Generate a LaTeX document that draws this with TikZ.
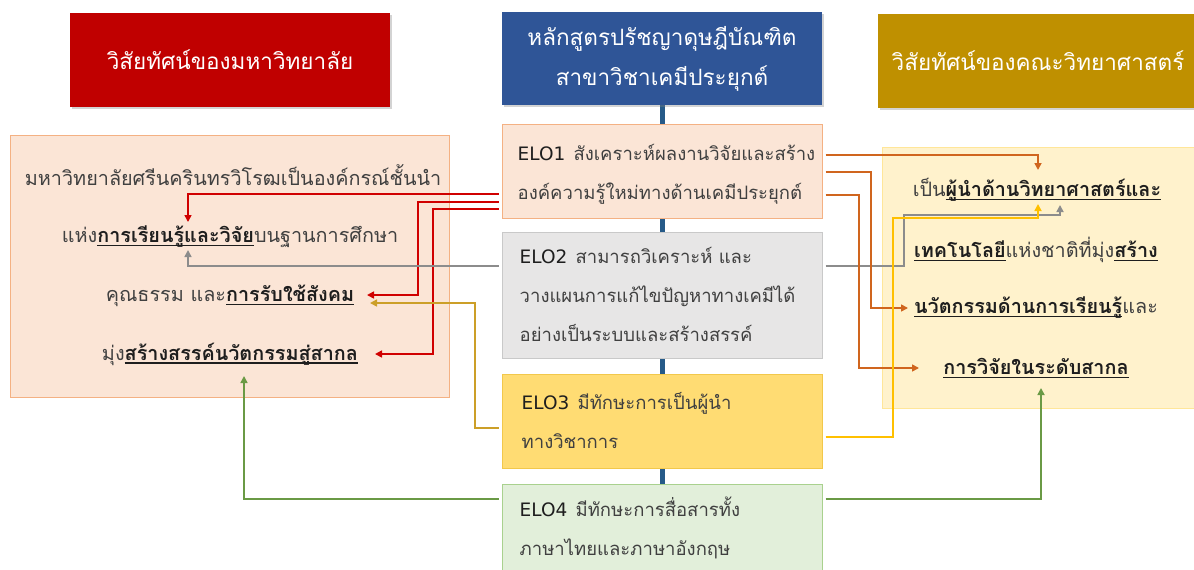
\documentclass[tikz,border=0pt]{standalone}
\usepackage{fontspec}
\newfontfamily\thaifont[Script=Thai]{Loma}
\newfontfamily\latinfont{DejaVu Sans}
\usetikzlibrary{arrows.meta, shadows, backgrounds, positioning}
\definecolor{hRed}{HTML}{C00000}
\definecolor{hBlue}{HTML}{2F5597}
\definecolor{hGold}{HTML}{BF9000}
\definecolor{peachF}{HTML}{FBE5D6}
\definecolor{peachD}{HTML}{F4B183}
\definecolor{grayF}{HTML}{E7E6E6}
\definecolor{grayD}{HTML}{C9C9C9}
\definecolor{yelF}{HTML}{FFDC73}
\definecolor{yelD}{HTML}{F2C84B}
\definecolor{grnF}{HTML}{E2EFDA}
\definecolor{grnD}{HTML}{A9D18E}
\definecolor{creamF}{HTML}{FFF2CC}
\definecolor{creamD}{HTML}{FFE699}
\definecolor{txt}{HTML}{404040}
\definecolor{txtD}{HTML}{1E1E1E}
\definecolor{lnRed}{HTML}{D00000}
\definecolor{lnGray}{HTML}{8C8C8C}
\definecolor{lnOrange}{HTML}{D0651E}
\definecolor{lnYellow}{HTML}{FFC000}
\definecolor{lnGold}{HTML}{CC9F28}
\definecolor{lnGreen}{HTML}{6A9A45}
\definecolor{spineC}{HTML}{265A88}
\newsavebox{\uthbox}
\newcommand{\uth}[1]{\sbox{\uthbox}{\color{txtD}\textbf{#1}}\rlap{\usebox{\uthbox}}{\color{txtD}\rule[-3.5pt]{\wd\uthbox}{1.2pt}}}
\newcommand{\elo}[1]{{\latinfont\color{txtD}ELO#1}\hspace{2pt}}
\tikzset{
    head/.style={draw=none, fill=#1, minimum width=320pt, text=white, align=center,
        font=\thaifont\fontsize{22.5}{40}\selectfont,
        drop shadow={opacity=0.35, shadow xshift=1.5pt, shadow yshift=-1.5pt}},
    panel/.style n args={2}{draw=#2, fill=#1, line width=1pt},
    elo/.style n args={2}{draw=#2, fill=#1, line width=1pt, minimum width=320pt},
    eloT/.style={align=left, text=txt, inner sep=0pt, font=\thaifont\fontsize{18.5}{39}\selectfont},
    vis/.style={text=txt, inner sep=0pt, font=\thaifont\fontsize{19.8}{24}\selectfont},
    conn/.style={draw=#1, line width=1.6pt, shorten <=3pt, -{Triangle[length=7pt,width=7pt]}},
    spine/.style={draw=spineC, line width=5pt}
}
\begin{document}
\begin{tikzpicture}[x=1pt, y=-1pt]
    \clip (0,0) rectangle (1194,570);
    % headers
    \node[head=hRed, minimum height=94pt] (h1) at (230,60) {วิสัยทัศน์ของมหาวิทยาลัย};
    \node[head=hBlue, minimum height=93pt] (h2) at (662,58.5) {หลักสูตรปรัชญาดุษฎีบัณฑิต\\สาขาวิชาเคมีประยุกต์};
    \node[head=hGold, minimum height=94pt] (h3) at (1038,61) {วิสัยทัศน์ของคณะวิทยาศาสตร์};
    % vision panels
    \node[panel={peachF}{peachD}, minimum width=439pt, minimum height=262pt] (u) at (229.5,266) {};
    \node[panel={creamF}{creamD}, minimum width=316pt, minimum height=261pt] (f) at (1040,277.5) {};
    \node[vis] (u1) at (233,175) {มหาวิทยาลัยศรีนครินทรวิโรฒเป็นองค์กรณ์ชั้นนำ};
    \node[vis] (u2) at (230,237) {แห่ง\uth{การเรียนรู้และวิจัย}บนฐานการศึกษา};
    \node[vis] (u3) at (230,296) {คุณธรรม และ\uth{การรับใช้สังคม}};
    \node[vis] (u4) at (230,354) {มุ่ง\uth{สร้างสรรค์นวัตกรรมสู่สากล}};
    \node[vis] (f1) at (1037,190) {เป็น\uth{ผู้นำด้านวิทยาศาสตร์และ}};
    \node[vis] (f2) at (1036,250) {\uth{เทคโนโลยี}แห่งชาติที่มุ่ง\uth{สร้าง}};
    \node[vis] (f3) at (1036,308) {\uth{นวัตกรรมด้านการเรียนรู้}และ};
    \node[vis] (f4) at (1036,368) {\uth{การวิจัยในระดับสากล}};
    % ELO boxes
    \node[elo={peachF}{peachD}, minimum height=94pt] (e1) at (662,171) {};
    \node[elo={grayF}{grayD}, minimum height=126pt] (e2) at (662,295) {};
    \node[elo={yelF}{yelD}, minimum height=94pt] (e3) at (662,421) {};
    \node[elo={grnF}{grnD}, minimum height=88pt] (e4) at (662,528) {};
    \node[eloT, right=16pt of e1.west, yshift=-3pt] (e1t) {\elo1 สังเคราะห์ผลงานวิจัยและสร้าง\\องค์ความรู้ใหม่ทางด้านเคมีประยุกต์};
    \node[eloT, right=18pt of e2.west, yshift=1pt] (e2t) {\elo2 สามารถวิเคราะห์ และ\\วางแผนการแก้ไขปัญหาทางเคมีได้\\อย่างเป็นระบบและสร้างสรรค์};
    \node[eloT, right=20pt of e3.west, yshift=1pt] (e3t) {\elo3 มีทักษะการเป็นผู้นำ\\ทางวิชาการ};
    \node[eloT, right=18pt of e4.west] (e4t) {\elo4 มีทักษะการสื่อสารทั้ง\\ภาษาไทยและภาษาอังกฤษ};
    \begin{scope}[on background layer]
    \draw[spine] (h2.south) -- (e4.north);
    \end{scope}
    % arrow targets
    \coordinate (t11) at (188,222);
    \coordinate (t12) at (188,250);
    \coordinate (t13) at (367,295);
    \coordinate (t14) at (375,354);
    \coordinate (t15) at (370,303);
    \coordinate (t16) at (244,376);
    \coordinate (t21) at (1060,205);
    \coordinate (t22) at (1038,170);
    \coordinate (t23) at (908,308);
    \coordinate (t24) at (919,368);
    \coordinate (t25) at (1038,204);
    \coordinate (t26) at (1041,388);
    % connectors
    \draw[conn=lnRed] (e1.west |- 0,194) -| (t11);
    \draw[conn=lnRed] (e1.west |- 0,202) -| (t13 -| 418,0) -- (t13);
    \draw[conn=lnRed] (e1.west |- 0,209) -| (t14 -| 433,0) -- (t14);
    \draw[conn=lnGray] (e2.west |- 0,266) -| (t12);
    \draw[conn=lnGray] (e2.east |- 0,266) -| (904,215) -| (t21);
    \draw[conn=lnOrange] (e1.east |- 0,155) -| (t22);
    \draw[conn=lnOrange] (e1.east |- 0,172) -| (t23 -| 871,0) -- (t23);
    \draw[conn=lnOrange] (e1.east |- 0,195) -| (t24 -| 859,0) -- (t24);
    \draw[conn=lnYellow] (e3.east |- 0,437) -| (893,218) -| (t25);
    \draw[conn=lnGold] (e3.west |- 0,428) -| (t15 -| 475,0) -- (t15);
    \draw[conn=lnGreen] (e4.west |- 0,499) -| (t16);
    \draw[conn=lnGreen] (e4.east |- 0,499) -| (t26);
\end{tikzpicture}
\end{document}
